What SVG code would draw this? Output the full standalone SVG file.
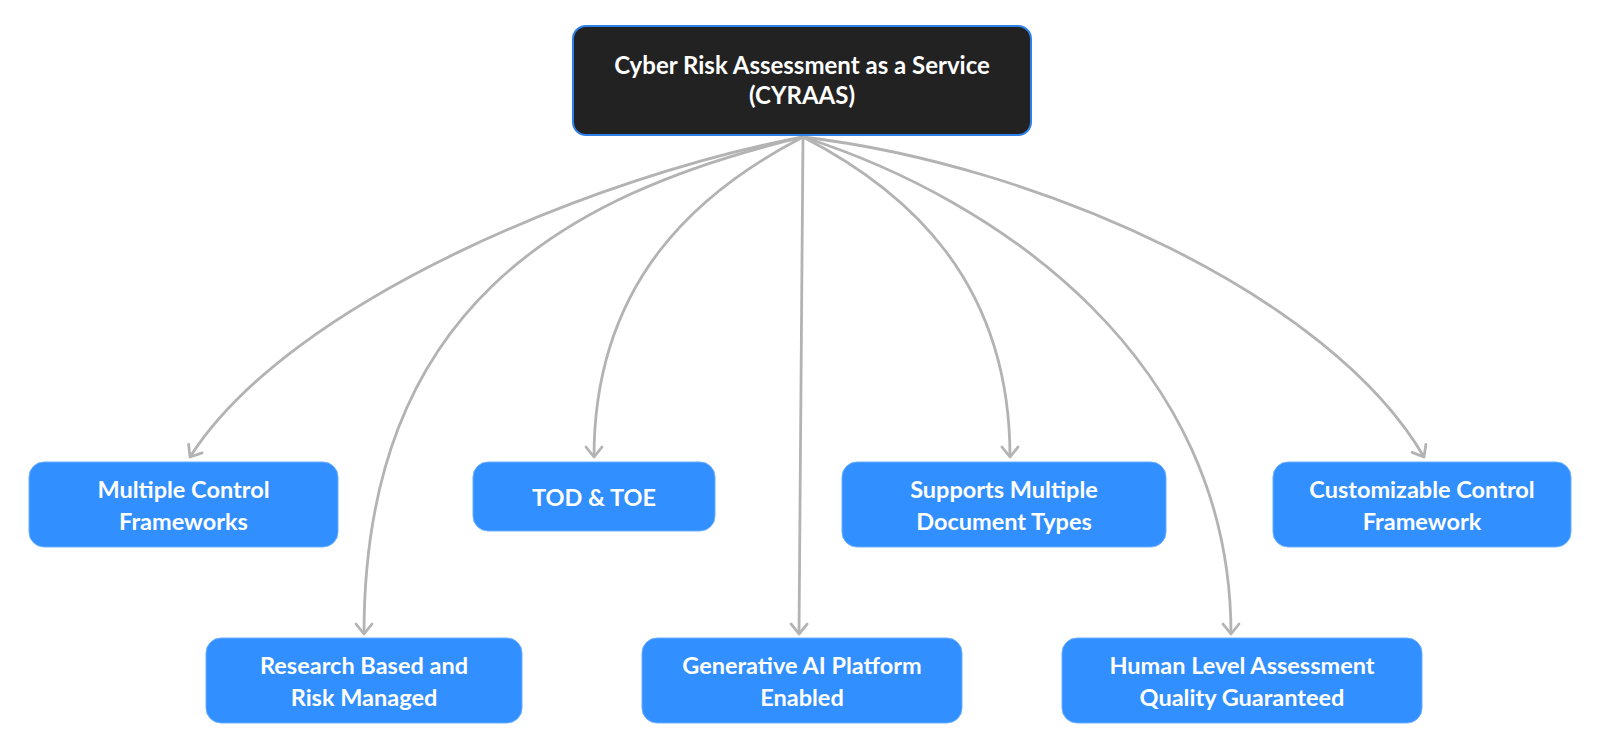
<svg xmlns="http://www.w3.org/2000/svg" width="1599" height="751" viewBox="0 0 1599 751">
<style>
.leaf{fill:#318fff;stroke:#6aafff;stroke-width:1}
.root{fill:#222222;stroke:#2f80e8;stroke-width:2}
.t{font-family:Lato,"Liberation Sans",sans-serif;font-weight:700;font-size:23.5px;fill:#ffffff;text-anchor:middle}
.rt{font-size:24px}
.c{fill:none;stroke:#b3b3b3;stroke-width:2.8;marker-end:url(#ah)}
</style>
<defs>
<marker id="ah" markerUnits="userSpaceOnUse" markerWidth="24" markerHeight="24" viewBox="-12 -12 24 24" refX="0" refY="0" orient="auto">
<path d="M-10,-8 L0,0 L-10,8" fill="none" stroke="#b3b3b3" stroke-width="2.8" stroke-linecap="round" stroke-linejoin="round"/>
</marker>
</defs>
<rect width="1599" height="751" fill="#ffffff"/>
<g id="connectors">
<path class="c" d="M803,137 C600,175 290,300 190,457"/>
<path class="c" d="M803,137 C560,195 364,310 364,634"/>
<path class="c" d="M803,137 C700,190 594,280 594,457"/>
<path class="c" d="M803,137 L799,634"/>
<path class="c" d="M803,137 C906,190 1010,280 1010,457"/>
<path class="c" d="M803,137 C1000,200 1231,360 1231,634"/>
<path class="c" d="M803,137 C1040,165 1330,295 1424,457"/>
</g>
<g id="root">
<rect class="root" x="573" y="26" width="458" height="109" rx="13"/>
<text class="t rt" x="802" y="73.5">Cyber Risk Assessment as a Service</text>
<text class="t rt" x="802" y="104">(CYRAAS)</text>
</g>
<g id="n-multiple-control">
<rect class="leaf" x="29" y="462" width="309" height="85" rx="15"/>
<text class="t" x="183.5" y="497.5">Multiple Control</text>
<text class="t" x="183.5" y="529.5">Frameworks</text>
</g>
<g id="n-tod-toe">
<rect class="leaf" x="473" y="462" width="242" height="69" rx="15"/>
<text class="t" x="594" y="505.5">TOD &amp; TOE</text>
</g>
<g id="n-supports">
<rect class="leaf" x="842" y="462" width="324" height="85" rx="15"/>
<text class="t" x="1004" y="497.5">Supports Multiple</text>
<text class="t" x="1004" y="529.5">Document Types</text>
</g>
<g id="n-customizable">
<rect class="leaf" x="1273" y="462" width="298" height="85" rx="15"/>
<text class="t" x="1422" y="497.5">Customizable Control</text>
<text class="t" x="1422" y="529.5">Framework</text>
</g>
<g id="n-research">
<rect class="leaf" x="206" y="638" width="316" height="85" rx="15"/>
<text class="t" x="364" y="673.5">Research Based and</text>
<text class="t" x="364" y="705.5">Risk Managed</text>
</g>
<g id="n-genai">
<rect class="leaf" x="642" y="638" width="320" height="85" rx="15"/>
<text class="t" x="802" y="673.5">Generative AI Platform</text>
<text class="t" x="802" y="705.5">Enabled</text>
</g>
<g id="n-human">
<rect class="leaf" x="1062" y="638" width="360" height="85" rx="15"/>
<text class="t" x="1242" y="673.5">Human Level Assessment</text>
<text class="t" x="1242" y="705.5">Quality Guaranteed</text>
</g>
</svg>
